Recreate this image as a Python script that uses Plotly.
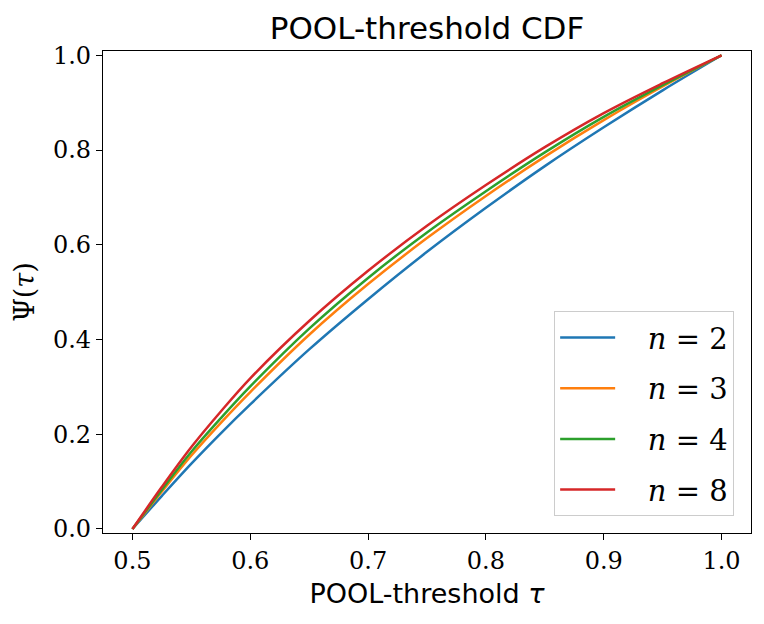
import plotly.graph_objects as go

# POOL-threshold tau and CDF values
tau = [0.5, 0.525, 0.55, 0.575, 0.6, 0.65, 0.7, 0.75, 0.8, 0.85, 0.9, 0.95, 1.0]
psi_n2 = [0.0, 0.070, 0.138, 0.202, 0.263, 0.379, 0.485, 0.585, 0.678, 0.766, 0.848, 0.926, 1.0]
psi_n3 = [0.0, 0.079, 0.155, 0.224, 0.289, 0.410, 0.517, 0.614, 0.703, 0.786, 0.863, 0.934, 1.0]
psi_n4 = [0.0, 0.083, 0.163, 0.234, 0.301, 0.423, 0.530, 0.626, 0.713, 0.795, 0.870, 0.937, 1.0]
psi_n8 = [0.0, 0.089, 0.173, 0.248, 0.318, 0.439, 0.545, 0.640, 0.726, 0.806, 0.878, 0.941, 1.0]

series = [
    ("&nbsp;&nbsp;&nbsp;<i>n</i> = 2", psi_n2, "#1f77b4"),
    ("&nbsp;&nbsp;&nbsp;<i>n</i> = 3", psi_n3, "#ff7f0e"),
    ("&nbsp;&nbsp;&nbsp;<i>n</i> = 4", psi_n4, "#2ca02c"),
    ("&nbsp;&nbsp;&nbsp;<i>n</i> = 8", psi_n8, "#d62728"),
]

fig = go.Figure()
for name, vals, col in series:
    fig.add_trace(go.Scatter(
        x=tau, y=vals, mode="lines", name=name, legendgroup=name,
        line=dict(color=col, width=2.5, shape="spline", smoothing=1.0),
    ))

serif = "DejaVu Serif"
sans = "DejaVu Sans"

axis_common = dict(
    showline=True, linecolor="black", linewidth=1.2, mirror=True,
    ticks="outside", ticklen=6, tickwidth=1.2, tickcolor="black",
    showgrid=False, zeroline=False, automargin=False,
    tickfont=dict(family=serif, size=24, color="black"),
)

# page has an 8px body margin, so the margins are shifted to compensate
fig.update_layout(
    width=764, height=624,
    paper_bgcolor="white", plot_bgcolor="white",
    margin=dict(l=95, r=21, t=43, b=99),
    title=dict(text="POOL-threshold CDF", xref="paper", x=0.5, xanchor="center",
               y=0.968, yanchor="middle",
               font=dict(family=sans, size=31, color="black")),
    xaxis=dict(range=[0.475, 1.025], tickvals=[0.5, 0.6, 0.7, 0.8, 0.9, 1.0],
               ticktext=["0.5", "0.6", "0.7", "0.8", "0.9", "1.0"],
               title=dict(text="POOL-threshold <i>τ</i>", standoff=10,
                          font=dict(family=sans, size=27, color="black")),
               **axis_common),
    yaxis=dict(range=[-0.0085, 1.009], tickvals=[0.0, 0.2, 0.4, 0.6, 0.8, 1.0],
               ticktext=["0.0", "0.2", "0.4", "0.6", "0.8", "1.0"],
               title=dict(text="Ψ(<i>τ</i>)", standoff=10,
                          font=dict(family=serif, size=27, color="black")),
               **axis_common),
    legend=dict(x=0.974, y=0.035, xanchor="right", yanchor="bottom",
                bgcolor="rgba(255,255,255,0.8)", bordercolor="#cccccc",
                borderwidth=1, font=dict(family=serif, size=29, color="black"),
                itemwidth=55, tracegroupgap=10),
    showlegend=True,
)

fig.write_html("out.html")
